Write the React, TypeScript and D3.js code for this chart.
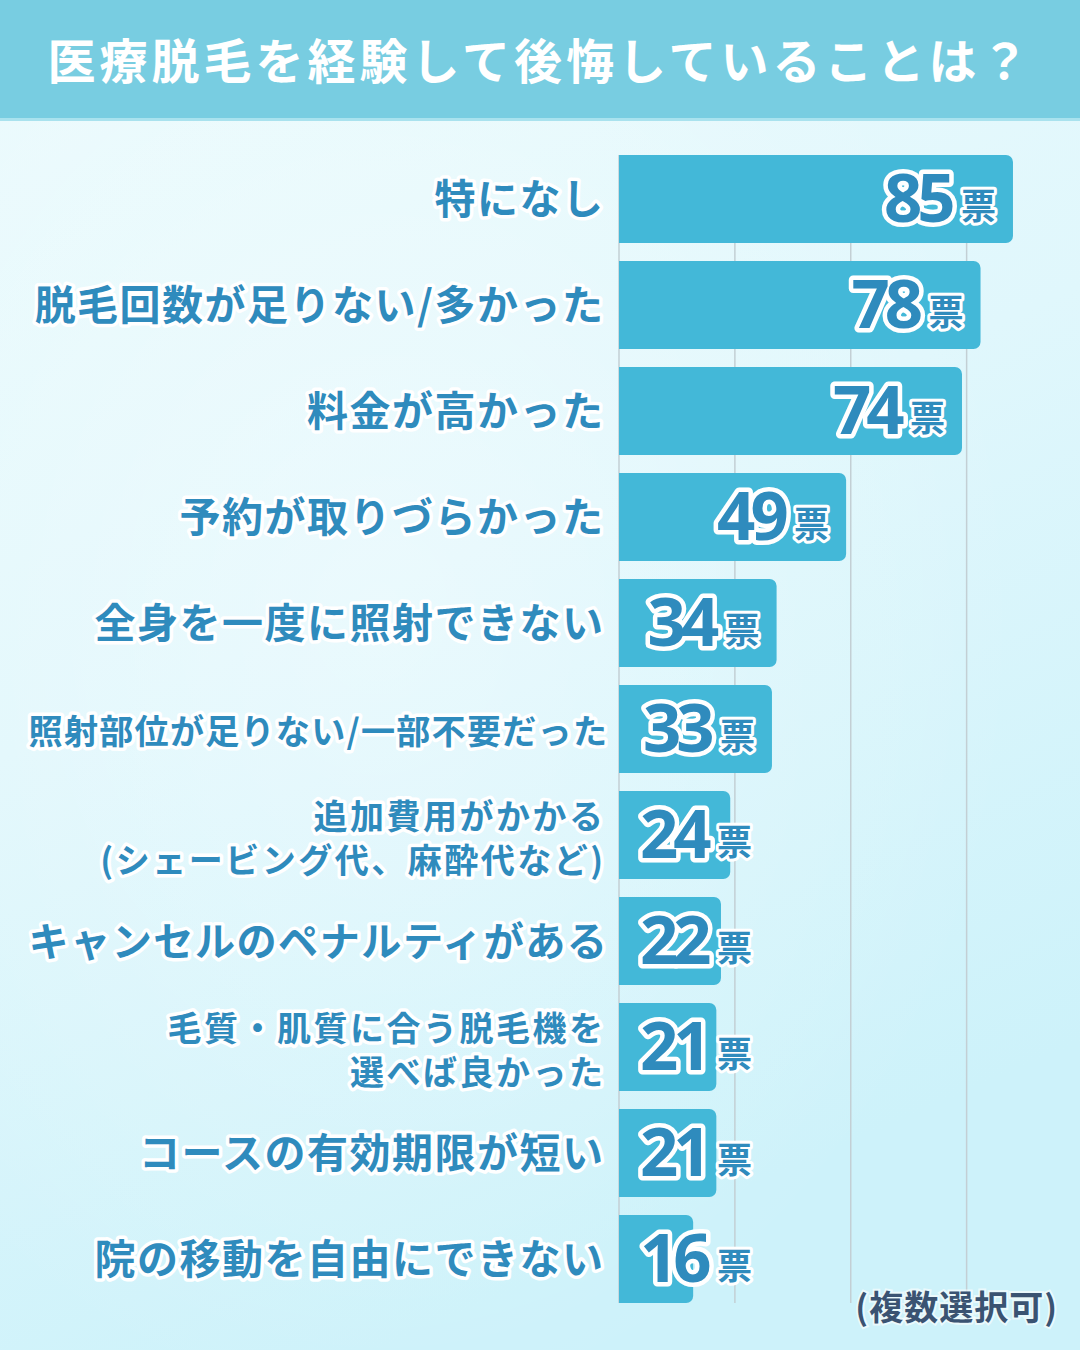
import React, { useEffect, useRef } from "react";
import * as d3 from "d3";

const TITLE = "医療脱毛を経験して後悔していることは？";
const categories = [
  "特になし",
  "脱毛回数が足りない/多かった",
  "料金が高かった",
  "予約が取りづらかった",
  "全身を一度に照射できない",
  "照射部位が足りない/一部不要だった",
  "追加費用がかかる\n(シェービング代、麻酔代など)",
  "キャンセルのペナルティがある",
  "毛質・肌質に合う脱毛機を\n選べば良かった",
  "コースの有効期限が短い",
  "院の移動を自由にできない",
];
const votes = [85, 78, 74, 49, 34, 33, 24, 22, 21, 21, 16];
const gridTicks = [25, 50, 75];
const UNIT = "票";
const NOTE = "(複数選択可)";

const W = 1080;
const H = 1350;
const FONT = "'Noto Sans CJK JP', 'Noto Sans', sans-serif";
const BAR = "#43b8d8";
const TEXT = "#2f8bbd";

export default function App() {
  const svgRef = useRef<SVGSVGElement>(null);

  const x = d3.scaleLinear().domain([0, 100]).range([619, 619 + 463.5]);
  const y = d3
    .scaleBand<string>()
    .domain(categories)
    .range([155, 1303])
    .paddingInner(0.17)
    .paddingOuter(0);
  const bw = y.bandwidth();

  useEffect(() => {
    if (!svgRef.current) return;
    const maxW = 580;
    d3.select(svgRef.current)
      .selectAll<SVGTextElement, unknown>("text.cat-single")
      .each(function () {
        const len = this.getComputedTextLength();
        if (len > maxW) {
          const fs = parseFloat(this.getAttribute("font-size") || "38");
          const ls = parseFloat(this.getAttribute("letter-spacing") || "0");
          const k = maxW / len;
          this.setAttribute("font-size", String(fs * k));
          this.setAttribute("letter-spacing", String(ls * k));
          this.setAttribute("x", String(607 + ls * k));
        }
      });
  }, []);

  const barPath = (x0: number, x1: number, y0: number, h: number, r: number) => {
    const rr = Math.min(r, x1 - x0);
    const p = d3.path();
    p.moveTo(x0, y0);
    p.lineTo(x1 - rr, y0);
    p.arcTo(x1, y0, x1, y0 + rr, rr);
    p.lineTo(x1, y0 + h - rr);
    p.arcTo(x1, y0 + h, x1 - rr, y0 + h, rr);
    p.lineTo(x0, y0 + h);
    p.closePath();
    return p.toString();
  };

  const gridTop = y(categories[0])!;
  const gridBottom = y(categories[categories.length - 1])! + bw;

  return (
    <svg
      ref={svgRef}
      width={W}
      height={H}
      viewBox={`0 0 ${W} ${H}`}
      style={{ display: "block", position: "absolute", left: 0, top: 0 }}
      fontFamily={FONT}
    >
      <defs>
        <linearGradient id="bg" x1="0" y1="0" x2="0.35" y2="1">
          <stop offset="0" stopColor="#ecfbfd" />
          <stop offset="0.5" stopColor="#e0f7fc" />
          <stop offset="1" stopColor="#cdf2fa" />
        </linearGradient>
        <radialGradient id="glow" cx="0.35" cy="0.45" r="0.6">
          <stop offset="0" stopColor="#ffffff" stopOpacity="0.35" />
          <stop offset="1" stopColor="#ffffff" stopOpacity="0" />
        </radialGradient>
      </defs>
      <rect x={0} y={0} width={W} height={H} fill="url(#bg)" />
      <rect x={0} y={0} width={W} height={H} fill="url(#glow)" />

      {/* title */}
      <rect x={0} y={0} width={W} height={120} fill="#78cde1" />
      <rect x={0} y={118} width={W} height={3} fill="#a9e2ee" />
      <text
        x={540}
        y={79}
        textAnchor="middle"
        fontSize={48}
        fontWeight={700}
        letterSpacing={4}
        fill="#ffffff"
      >
        {TITLE}
      </text>

      {/* grid */}
      <line x1={x(0)} x2={x(0)} y1={gridTop} y2={gridBottom} stroke="#c3cfd4" strokeWidth={1.5} />
      {gridTicks.map((t) => (
        <line
          key={t}
          x1={x(t)}
          x2={x(t)}
          y1={gridTop}
          y2={gridBottom}
          stroke="#c3cfd4"
          strokeWidth={1.5}
        />
      ))}

      {/* bars */}
      {categories.map((c, i) => {
        const y0 = y(c)!;
        const x1 = x(votes[i]);
        const numStart = Math.max(x1 - 129, 640);
        const cy = y0 + bw / 2;
        return (
          <g key={c}>
            <path d={barPath(x(0), x1, y0, bw, 7)} fill={BAR} />
            <text
              x={numStart}
              y={cy + 23}
              fontSize={67}
              fontWeight={700}
              letterSpacing={-5}
              fontFamily="'Noto Sans', 'DejaVu Sans', sans-serif"
              fill={TEXT}
              stroke="#ffffff"
              strokeWidth={9}
              strokeLinejoin="round"
              paintOrder="stroke"
            >
              {votes[i]}
            </text>
            <text
              x={numStart + 77}
              y={cy + 20}
              fontSize={35}
              fontWeight={700}
              fill={TEXT}
              stroke="#ffffff"
              strokeWidth={6}
              strokeLinejoin="round"
              paintOrder="stroke"
            >
              {UNIT}
            </text>
          </g>
        );
      })}

      {/* category labels */}
      {categories.map((c) => {
        const lines = c.split("\n");
        const cy = y(c)! + bw / 2;
        const multi = lines.length > 1;
        const fs = multi ? 34 : 41;
        const ls = multi ? 2.5 : 1.5;
        const common = {
          textAnchor: "end" as const,
          fontSize: fs,
          fontWeight: 700,
          letterSpacing: ls,
          fill: TEXT,
          stroke: "#ffffff",
          strokeWidth: 7,
          strokeLinejoin: "round" as const,
          paintOrder: "stroke",
        };
        if (!multi) {
          return (
            <text key={c} className="cat-single" x={603 + ls} y={cy + fs * 0.36} {...common}>
              {c}
            </text>
          );
        }
        return (
          <text key={c} className="cat-multi" x={603 + ls} y={cy - 18 + fs * 0.36} {...common}>
            {lines.map((ln, j) => (
              <tspan key={j} x={603 + ls} y={cy + (j === 0 ? -18 : 26) + fs * 0.36}>
                {ln}
              </tspan>
            ))}
          </text>
        );
      })}

      <text
        x={1058}
        y={1320}
        textAnchor="end"
        fontSize={34}
        fontWeight={700}
        letterSpacing={1}
        fill="#3a5372"
        stroke="#ffffff"
        strokeWidth={4}
        strokeOpacity={0.6}
        paintOrder="stroke"
      >
        {NOTE}
      </text>
    </svg>
  );
}
